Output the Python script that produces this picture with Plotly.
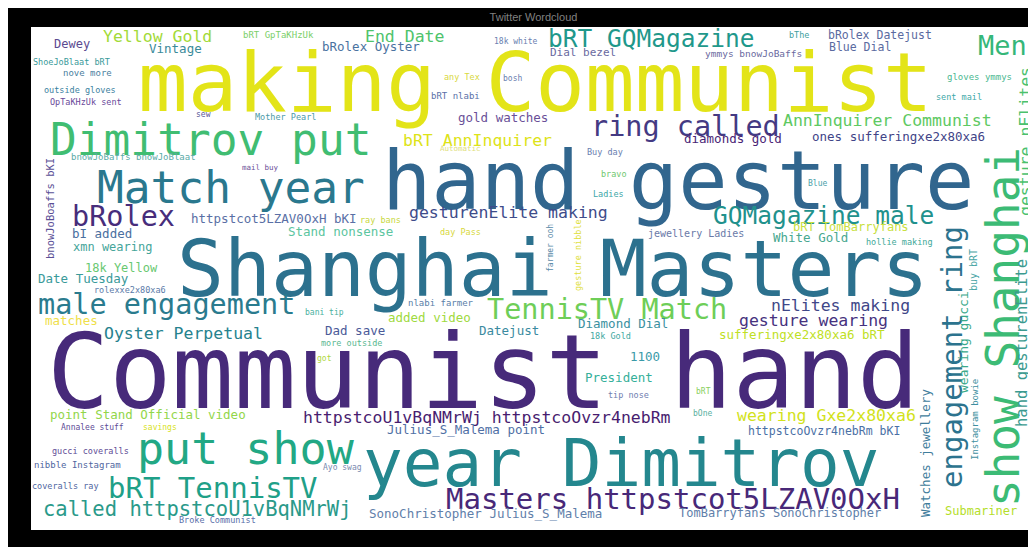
import plotly.graph_objects as go

# word cloud terms (bigram / word tokens) and their placement on a 1005 x 503 canvas
words = [
    "making Communist", "hand gesture", "Shanghai Masters", "Communist hand", "year Dimitrov",
    "Dimitrov put", "Match year", "put show", "bRT TennisTV", "called httpstcoU1vBqNMrWj",
    "Masters httpstcot5LZAV0OxH", "show Shanghai", "engagement ring", "Men", "ring called",
    "bRolex", "male engagement", "TennisTV Match", "bRT GQMagazine", "GQMagazine male",
    "Yellow Gold", "End Date", "AnnInquirer Communist", "bRT AnnInquirer", "gesturenElite making",
    "Oyster Perpetual", "nElites making", "gesture wearing", "httpstcoU1vBqNMrWj httpstcoOvzr4nebRm",
    "wearing Gxe2x80xa6", "sufferingxe2x80xa6 bRT", "ones sufferingxe2x80xa6", "diamonds gold",
    "gesture nElites", "hand gesturenElite", "wearing gucci", "buy bRT", "Instagram bowie",
    "Watches jewellery", "Submariner", "httpstcoOvzr4nebRm bKI", "TomBarryfans SonoChristopher",
    "SonoChristopher Julius_S_Malema", "Julius_S_Malema point", "President", "tip nose",
    "point Stand Official video", "Annalee stuff", "savings", "gucci coveralls", "nibble Instagram",
    "coveralls ray", "Broke Communist", "Ayo swag", "Dewey", "Vintage", "bRT GpTaKHzUk",
    "bRolex Oyster", "ShoeJoBlaat bRT", "nove more", "outside gloves", "OpTaKHzUk sent", "sew",
    "Mother Pearl", "bnowJoBaffs bnowJoBlaat", "mail buy", "bnowJoBoaffs bKI",
    "httpstcot5LZAV0OxH bKI", "bI added", "Stand nonsense", "xmn wearing", "18k Yellow",
    "Date Tuesday", "rolexxe2x80xa6", "matches", "bani tip", "Dad save", "more outside", "got",
    "nlabi farmer", "added video", "Datejust", "Diamond Dial", "18k Gold", "1100", "ray bans",
    "day Pass", "farmer ooh", "gesture nibble", "jewellery Ladies", "bRT TomBarryfans",
    "White Gold", "hollie making", "Ladies", "bravo", "Buy day", "Automatic", "bRT nlabi",
    "gold watches", "any Tex", "bosh", "18k white", "Dial bezel", "ymmys bnowJoBaffs", "bThe",
    "bRolex Datejust", "Blue Dial", "gloves ymmys", "sent mail", "Blue", "bRT", "bOne",
]

# (x, y, font px, angle, colour) for each word, same order as above
placement = [
    (504, 55, 82.5, 0, "#e3e418"), (647, 153, 82, 0, "#31668e"), (521, 242, 78, 0, "#2c718e"),
    (452, 345, 103.5, 0, "#472a7a"), (590, 436, 66, 0, "#24878e"), (180, 112, 44.5, 0, "#40bd72"),
    (200, 160, 44.5, 0, "#2a788e"), (215, 421, 45, 0, "#22a884"), (182, 461, 29, 0, "#1fa088"),
    (166, 482, 20.5, 0, "#2a9a8a"), (642, 472, 29, 0, "#482878"), (972, 300, 46, -90, "#3cbb75"),
    (921, 330, 29, -90, "#2c738e"), (971, 18, 27, 0, "#35b779"), (654, 99, 28.5, 0, "#443a83"),
    (92, 189, 28.5, 0, "#472d7b"), (135, 277, 28.5, 0, "#2a7b8e"), (576, 282, 28.5, 0, "#6ece58"),
    (620, 11, 24.5, 0, "#1f988b"), (792, 188, 24.5, 0, "#21918c"), (126, 9, 16.5, 0, "#a2da37"),
    (373, 9, 16.5, 0, "#4ec36b"), (856, 93, 16.5, 0, "#5ec962"), (446, 113, 16.5, 0, "#dde318"),
    (477, 185, 16.5, 0, "#3e4c8a"), (152, 306, 16.5, 0, "#26828e"), (809, 278, 16.5, 0, "#3f4788"),
    (782, 293, 16.5, 0, "#46327e"), (456, 390, 16.5, 0, "#481d6f"), (795, 388, 16.5, 0, "#d2e21b"),
    (771, 307, 12.5, 0, "#c0df25"), (867, 109, 12.5, 0, "#414487"), (702, 111, 12.5, 0, "#482475"),
    (994, 115, 16.5, -90, "#4ac16d"), (991, 316, 15.5, -90, "#3b9a8f"), (932, 315, 13, -90, "#3aa98a"),
    (942, 243, 10, -90, "#4aa5a5"), (944, 393, 9, -90, "#3e8fa0"), (894, 426, 12.5, -90, "#3f7d9c"),
    (950, 484, 12, 0, "#b5de2b"), (793, 404, 11.5, 0, "#4a6fa5"), (749, 486, 12, 0, "#5f80aa"),
    (454, 486, 12.5, 0, "#5f80aa"), (435, 402, 12.5, 0, "#4f6fa5"), (588, 350, 12.5, 0, "#35b09a"),
    (597, 368, 8.5, 0, "#7080b0"), (117, 387, 12.5, 0, "#92d64a"), (61, 400, 8, 0, "#5e4c96"),
    (129, 400, 8, 0, "#d8e21c"), (59, 424, 8.5, 0, "#5e4c96"), (46, 438, 9, 0, "#4f66a0"),
    (34, 459, 8.5, 0, "#4f66a0"), (186, 493, 8.5, 0, "#5a70aa"), (311, 440, 8, 0, "#7a8ab0"),
    (41, 17, 12, 0, "#5b4a90"), (144, 21, 12.5, 0, "#3a8a9a"), (247, 8, 9, 0, "#7ccf6a"),
    (340, 19, 12.5, 0, "#4a72a0"), (40, 35, 8.5, 0, "#3a9a9a"), (56, 46, 9, 0, "#4a80a0"),
    (49, 63, 8.5, 0, "#3a7fa0"), (55, 75, 8.5, 0, "#6a4a9a"), (172, 87, 8, 0, "#5a5a98"),
    (254, 90, 8.5, 0, "#4c9aa8"), (102, 130, 9, 0, "#5aaaa8"), (229, 140, 7.5, 0, "#6a5098"),
    (19, 182, 10.5, -90, "#5a4f96"), (243, 191, 12.5, 0, "#5a6fa5"), (71, 206, 12.5, 0, "#4a6fa0"),
    (309, 204, 12.5, 0, "#5cc5a0"), (81, 220, 12, 0, "#45a59a"), (90, 241, 12, 0, "#68c870"),
    (52, 251, 12.5, 0, "#3a9a9a"), (99, 263, 8.5, 0, "#5a7aa8"), (40, 293, 12.5, 0, "#efe04a"),
    (293, 285, 8, 0, "#4ab0a0"), (324, 303, 12.5, 0, "#4a5a98"), (320, 316, 8.5, 0, "#5ab890"),
    (293, 331, 8, 0, "#b0d840"), (410, 276, 9, 0, "#5a80a8"), (398, 290, 12.5, 0, "#a0da40"),
    (478, 303, 12.5, 0, "#3a8aa0"), (592, 296, 12.5, 0, "#3a90a0"), (579, 309, 8.5, 0, "#40a8a0"),
    (614, 329, 12.5, 0, "#3a9aa8"), (349, 193, 8.5, 0, "#c8d840"), (429, 205, 8.5, 0, "#d8d840"),
    (519, 221, 8, -90, "#5a8aa8"), (547, 228, 8.5, -90, "#e0e040"), (665, 206, 10, 0, "#6a7aa8"),
    (820, 200, 12, 0, "#c8e040"), (779, 210, 12.5, 0, "#48a890"), (868, 215, 8.5, 0, "#40a898"),
    (577, 167, 8.5, 0, "#40a8a8"), (583, 147, 8.5, 0, "#70c870"), (574, 125, 8.5, 0, "#6a80b0"),
    (429, 121, 7.5, 0, "#e0e080"), (424, 69, 9, 0, "#5a70a8"), (472, 90, 12.5, 0, "#6a5098"),
    (431, 50, 8.5, 0, "#d8d840"), (481, 51, 8, 0, "#6a80b0"), (485, 14, 8, 0, "#6a80b0"),
    (552, 25, 11, 0, "#6a6aa0"), (722, 26, 9.5, 0, "#6a6aa0"), (768, 8, 8.5, 0, "#40a0a0"),
    (849, 8, 11.5, 0, "#5a6aa0"), (829, 20, 11.5, 0, "#5a6aa0"), (948, 50, 9, 0, "#4ab890"),
    (928, 70, 8.5, 0, "#40a8a8"), (786, 156, 8, 0, "#4aa0a8"), (672, 364, 8, 0, "#8ad060"),
    (671, 386, 8, 0, "#5ab0a0"),
]

fig = go.Figure()
fig.add_trace(go.Scatter(x=[0, 1005], y=[0, 503], mode="markers",
                         marker=dict(opacity=0), hoverinfo="skip", showlegend=False))

annotations = []
for w, (x, y, size, ang, col) in zip(words, placement):
    annotations.append(dict(x=x, y=y, xref="x", yref="y", text=w, showarrow=False,
                            xanchor="center", yanchor="middle", textangle=ang,
                            font=dict(family="DejaVu Sans Mono", size=size, color=col)))

fig.update_layout(
    width=1028, height=539,
    margin=dict(l=23, r=0, t=19, b=17),
    paper_bgcolor="black", plot_bgcolor="white",
    title=dict(text="Twitter Wordcloud", x=0.5, xref="paper", y=1 - 9 / 539, yanchor="middle",
               font=dict(family="Liberation Sans", size=11, color="#808080")),
    annotations=annotations,
)
fig.update_xaxes(range=[0, 1005], visible=False, fixedrange=True)
fig.update_yaxes(range=[503, 0], visible=False, fixedrange=True)

fig.write_html("out.html")
